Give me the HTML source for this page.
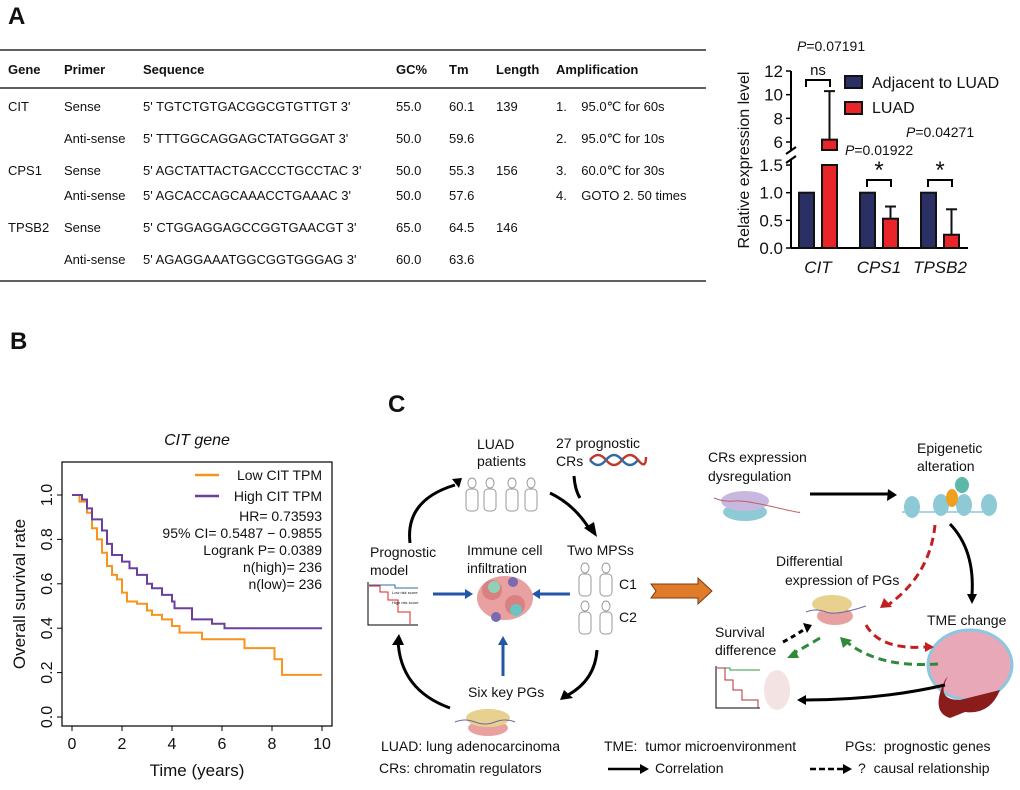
<!DOCTYPE html>
<html><head><meta charset="utf-8"><style>
body{margin:0;background:#fff}
svg text{font-family:"Liberation Sans",Arial,sans-serif;fill:#111}
</style></head><body>
<svg id="fig" width="1020" height="785" viewBox="0 0 1020 785">
<!-- Panel labels -->
<text x="8" y="24" font-size="24" font-weight="bold">A</text>
<text x="10" y="349" font-size="24" font-weight="bold">B</text>
<text x="388" y="412" font-size="24" font-weight="bold">C</text>

<!-- Table -->
<g font-size="13">
<line x1="0" y1="50" x2="706" y2="50" stroke="#000" stroke-width="1.2"/>
<line x1="0" y1="88" x2="706" y2="88" stroke="#000" stroke-width="1.2"/>
<line x1="0" y1="281" x2="706" y2="281" stroke="#000" stroke-width="1.2"/>
<g font-weight="bold">
<text x="8" y="74">Gene</text><text x="64" y="74">Primer</text><text x="143" y="74">Sequence</text>
<text x="396" y="74">GC%</text><text x="449" y="74">Tm</text><text x="496" y="74">Length</text><text x="556" y="74">Amplification</text>
</g>
<g>
<text x="8" y="111">CIT</text><text x="64" y="111">Sense</text><text x="143" y="111">5' TGTCTGTGACGGCGTGTTGT 3'</text><text x="396" y="111">55.0</text><text x="449" y="111">60.1</text><text x="496" y="111">139</text><text x="556" y="111">1.&#160;&#160;&#160; 95.0℃ for 60s</text>
<text x="64" y="143">Anti-sense</text><text x="143" y="143">5' TTTGGCAGGAGCTATGGGAT 3'</text><text x="396" y="143">50.0</text><text x="449" y="143">59.6</text><text x="556" y="143">2.&#160;&#160;&#160; 95.0℃ for 10s</text>
<text x="8" y="175">CPS1</text><text x="64" y="175">Sense</text><text x="143" y="175">5' AGCTATTACTGACCCTGCCTAC 3'</text><text x="396" y="175">50.0</text><text x="449" y="175">55.3</text><text x="496" y="175">156</text><text x="556" y="175">3.&#160;&#160;&#160; 60.0℃ for 30s</text>
<text x="64" y="200">Anti-sense</text><text x="143" y="200">5' AGCACCAGCAAACCTGAAAC 3'</text><text x="396" y="200">50.0</text><text x="449" y="200">57.6</text><text x="556" y="200">4.&#160;&#160;&#160; GOTO 2. 50 times</text>
<text x="8" y="232">TPSB2</text><text x="64" y="232">Sense</text><text x="143" y="232">5' CTGGAGGAGCCGGTGAACGT 3'</text><text x="396" y="232">65.0</text><text x="449" y="232">64.5</text><text x="496" y="232">146</text>
<text x="64" y="264">Anti-sense</text><text x="143" y="264">5' AGAGGAAATGGCGGTGGGAG 3'</text><text x="396" y="264">60.0</text><text x="449" y="264">63.6</text>
</g>
</g>

<g id="barchart"></g>
<g id="km"></g>

<!-- Panel C diagram -->
<g font-size="14">
<text x="477" y="449">LUAD</text><text x="477" y="466">patients</text>
<text x="556" y="448">27 prognostic</text><text x="556" y="466">CRs</text>
<path d="M590 460 q8 -10 16 0 t16 0 t16 0 t8 -3" stroke="#c0392b" stroke-width="2.5" fill="none"/>
<path d="M590 460 q8 10 16 0 t16 0 t16 0" stroke="#2e6da4" stroke-width="2.5" fill="none"/>
<g fill="none" stroke="#999" stroke-width="1">
<ellipse cx="472" cy="483" rx="4" ry="5"/><rect x="466" y="489" width="12" height="22" rx="4"/>
<ellipse cx="490" cy="483" rx="4" ry="5"/><rect x="484" y="489" width="12" height="22" rx="4"/>
<ellipse cx="512" cy="483" rx="4" ry="5"/><rect x="506" y="489" width="12" height="22" rx="4"/>
<ellipse cx="531" cy="483" rx="4" ry="5"/><rect x="525" y="489" width="12" height="22" rx="4"/>
<ellipse cx="585" cy="568" rx="4" ry="5"/><rect x="579" y="574" width="12" height="22" rx="4"/>
<ellipse cx="606" cy="568" rx="4" ry="5"/><rect x="600" y="574" width="12" height="22" rx="4"/>
<ellipse cx="585" cy="606" rx="4" ry="5"/><rect x="579" y="612" width="12" height="22" rx="4"/>
<ellipse cx="606" cy="606" rx="4" ry="5"/><rect x="600" y="612" width="12" height="22" rx="4"/>
</g>
<text x="370" y="557">Prognostic</text><text x="370" y="575">model</text>
<text x="467" y="555">Immune cell</text><text x="467" y="573">infiltration</text>
<text x="567" y="555">Two MPSs</text>
<text x="619" y="589">C1</text><text x="619" y="622">C2</text>
<text x="468" y="697">Six key PGs</text>
<g fill="none" stroke-width="1">
<path d="M368 582 V625 H418" stroke="#000"/>
<path d="M369 585 H395 V588 H418" stroke="#2e6da4"/>
<path d="M369 586 H380 V592 H388 V600 H398 V612 H410 V624" stroke="#e02020"/>
<text x="392" y="594" font-size="4" fill="#2e6da4" stroke="none">Low risk score</text>
<text x="392" y="604" font-size="4" fill="#e02020" stroke="none">High risk score</text>
</g>
<g>
<ellipse cx="505" cy="598" rx="28" ry="22" fill="#e8a0a0"/>
<circle cx="492" cy="590" r="10" fill="#d98080"/><circle cx="515" cy="605" r="10" fill="#d98080"/>
<circle cx="494" cy="587" r="6" fill="#8fd1b5"/><circle cx="516" cy="610" r="6" fill="#6cc3c3"/>
<circle cx="513" cy="582" r="5" fill="#7a6ab0"/><circle cx="496" cy="617" r="5" fill="#7a6ab0"/>
</g>
<g>
<ellipse cx="488" cy="728" rx="20" ry="8" fill="#e8a0a0"/><ellipse cx="488" cy="718" rx="22" ry="9" fill="#e8d08e"/>
<path d="M455 722 q10 -4 20 0 t20 0 t20 0" stroke="#6a6aa8" fill="none"/>
</g>
<g fill="none" stroke="#000" stroke-width="3">
<path d="M550 493 Q575 505 590 530"/><path d="M574 476 Q575 490 580 498"/>
<path d="M597 650 Q595 680 568 695"/>
<path d="M450 708 Q400 690 398 640"/>
<path d="M410 543 Q405 500 455 485"/>
<path d="M882 588 Q820 580 ..." stroke="none"/>
</g>
<g fill="#000">
<polygon points="584,528 597,537 594,522"/><polygon points="564,690 560,700 573,698"/>
<polygon points="392,645 399,634 404,645"/><polygon points="452,479 459,488 462,478"/>
</g>
<g stroke="#2355a8" stroke-width="3" fill="#2355a8">
<line x1="433" y1="594" x2="465" y2="594"/><polygon points="465,589 473,594 465,599" stroke="none"/>
<line x1="570" y1="594" x2="540" y2="594"/><polygon points="540,589 532,594 540,599" stroke="none"/>
<line x1="503" y1="676" x2="503" y2="645"/><polygon points="498,645 503,636 508,645" stroke="none"/>
</g>
<g>
<polygon points="651,584 698,584 698,578 712,591 698,604 698,598 651,598 656,591" fill="#e07b2a" stroke="#7a3a10"/>
</g>
<!-- right side -->
<text x="708" y="462">CRs expression</text><text x="708" y="481">dysregulation</text>
<text x="917" y="453">Epigenetic</text><text x="917" y="471">alteration</text>
<text x="776" y="566">Differential</text><text x="785" y="585">expression of PGs</text>
<text x="927" y="625">TME change</text>
<text x="715" y="637">Survival</text><text x="715" y="655">difference</text>
<g>
<ellipse cx="745" cy="512" rx="22" ry="9" fill="#8ec9d6"/><ellipse cx="745" cy="501" rx="24" ry="10" fill="#c8b8e0"/>
<path d="M714 498 q10 4 20 3 t40 6 t25 5" stroke="#c06060" fill="none"/>
</g>
<g fill="#8ec9d6">
<path d="M902 512 H995" stroke="#5aa9c0" fill="none"/>
<ellipse cx="912" cy="507" rx="8" ry="11"/><ellipse cx="941" cy="505" rx="8" ry="11"/><ellipse cx="964" cy="505" rx="8" ry="11"/><ellipse cx="989" cy="505" rx="8" ry="11"/>
<ellipse cx="962" cy="485" rx="7" ry="8" fill="#5cb8a8"/><ellipse cx="952" cy="498" rx="6" ry="9" fill="#f0a020"/>
</g>
<g>
<ellipse cx="835" cy="616" rx="18" ry="9" fill="#e8a0a0"/><ellipse cx="832" cy="604" rx="20" ry="9" fill="#e8d08e"/>
<path d="M806 612 q10 -4 20 0 t40 -6" stroke="#6a6aa8" fill="none"/>
</g>
<g>
<ellipse cx="970" cy="665" rx="42" ry="35" fill="#e9a8b8" stroke="#8bc7e0" stroke-width="3"/>
<path d="M948 676 Q935 700 960 700 L1000 690 Q990 715 965 712 L950 718 Q930 712 945 680Z" fill="#8a1c1c"/>
</g>
<g fill="none" stroke-width="1">
<path d="M716 666 V708 H760" stroke="#000"/>
<path d="M717 668 H730 V670 H760" stroke="#3a9a3a"/>
<path d="M717 668 H725 V680 H733 V690 H742 V700 H758 V708" stroke="#b03030"/>
<ellipse cx="777" cy="690" rx="13" ry="20" fill="#f3e3e3"/>
</g>
<g fill="none" stroke-width="3">
<path d="M810 494 H888" stroke="#000"/><polygon points="888,489 897,495 887,501" fill="#000" stroke="none"/>
<path d="M950 524 Q975 550 972 595" stroke="#000"/><polygon points="967,594 972,604 977,594" fill="#000" stroke="none"/>
<path d="M935 525 Q930 575 888 605" stroke="#c02020" stroke-dasharray="8,5"/><polygon points="884,598 880,608 892,607" fill="#c02020" stroke="none"/>
<path d="M866 625 Q880 650 925 647" stroke="#c02020" stroke-dasharray="8,5"/><polygon points="925,642 934,647 925,652" fill="#c02020" stroke="none"/>
<path d="M938 664 Q880 668 848 643" stroke="#2f8a3a" stroke-dasharray="8,5"/><polygon points="843,648 840,637 852,640" fill="#2f8a3a" stroke="none"/>
<path d="M820 638 Q800 650 792 654" stroke="#2f8a3a" stroke-dasharray="8,5"/><polygon points="795,649 787,658 799,658" fill="#2f8a3a" stroke="none"/>
<path d="M783 642 Q798 634 806 628" stroke="#000" stroke-dasharray="5,4"/><polygon points="803,623 812,625 807,633" fill="#000" stroke="none"/>
<path d="M945 685 Q880 700 805 700" stroke="#000"/><polygon points="806,695 797,700 806,705" fill="#000" stroke="none"/>
</g>
<!-- legend bottom -->
<g font-size="14">
<text x="381" y="751">LUAD: lung adenocarcinoma</text>
<text x="379" y="773">CRs: chromatin regulators</text>
<text x="604" y="751">TME:&#160; tumor microenvironment</text>
<line x1="608" y1="769" x2="640" y2="769" stroke="#000" stroke-width="2.5"/><polygon points="640,764 649,769 640,774" fill="#000"/>
<text x="655" y="773">Correlation</text>
<text x="845" y="751">PGs:&#160; prognostic genes</text>
<line x1="810" y1="769" x2="843" y2="769" stroke="#000" stroke-width="2.5" stroke-dasharray="6,3"/><polygon points="843,764 852,769 843,774" fill="#000"/>
<text x="858" y="773">?&#160; causal relationship</text>
</g>
</g>
</svg>
<script>
const NS="http://www.w3.org/2000/svg";
function mk(p,t,a){const e=document.createElementNS(NS,t);for(const k in a)e.setAttribute(k,a[k]);p.appendChild(e);return e;}

// ---- Bar chart data ----
const barGenes=["CIT","CPS1","TPSB2"];
const adjacentVals=[1.0,1.0,1.0];
const luadVals=[6.2,0.53,0.24];
const luadErr=[10.3,0.75,0.70];
const lowTicks=[0.0,0.5,1.0,1.5];
const highTicks=[6,8,10,12];
const pLabels=["P=0.07191","P=0.01922","P=0.04271"];
const sigMarks=["ns","*","*"];

const bc=document.getElementById('barchart');
const axX=791;
function yb(v){ // broken axis
  if(v<=1.5) return 248-v*55.3;
  if(v<5.5) return 158;
  return 142-(v-6)*11.83;
}
// axis
mk(bc,'line',{x1:axX,y1:248,x2:axX,y2:160,stroke:'#000','stroke-width':2});
mk(bc,'line',{x1:axX,y1:150,x2:axX,y2:71,stroke:'#000','stroke-width':2});
mk(bc,'line',{x1:786,y1:163,x2:796,y2:156,stroke:'#000','stroke-width':2});
mk(bc,'line',{x1:786,y1:154,x2:796,y2:147,stroke:'#000','stroke-width':2});
mk(bc,'line',{x1:axX,y1:248,x2:968,y2:248,stroke:'#000','stroke-width':2});
lowTicks.concat(highTicks).forEach(v=>{
  const y=yb(v);
  mk(bc,'line',{x1:axX-5,y1:y,x2:axX,y2:y,stroke:'#000','stroke-width':1.5});
  const t=mk(bc,'text',{x:axX-8,y:y+6,'text-anchor':'end','font-size':17});
  t.textContent=(v<=1.5)?v.toFixed(1):String(v);
});
const yl=mk(bc,'text',{x:0,y:0,'font-size':16,'text-anchor':'middle',transform:'translate(749,160) rotate(-90)'});
yl.textContent="Relative expression level";


const grpX=[799,860,921];
barGenes.forEach((g,i)=>{
  const x0=grpX[i];
  const b1=mk(bc,'rect',{x:x0,y:yb(adjacentVals[i]),width:15,height:248-yb(adjacentVals[i]),fill:'#2b3064',stroke:'#111','stroke-width':2});
  
  
  const xr=x0+23;
  const ytop=yb(luadVals[i]);
  if(luadVals[i]>1.5){
    mk(bc,'rect',{x:xr,y:ytop,width:15,height:150-ytop,fill:'#e8262a',stroke:'#111','stroke-width':2});
    mk(bc,'rect',{x:xr,y:165,width:15,height:83,fill:'#e8262a',stroke:'#111','stroke-width':2});
  } else {
    const b=mk(bc,'rect',{x:xr,y:ytop,width:15,height:248-ytop,fill:'#e8262a',stroke:'#111','stroke-width':2});
    
    
  }
  const ye=yb(luadErr[i]);
  mk(bc,'line',{x1:xr+7.5,y1:ytop,x2:xr+7.5,y2:ye,stroke:'#111','stroke-width':2});
  mk(bc,'line',{x1:xr+2,y1:ye,x2:xr+13,y2:ye,stroke:'#111','stroke-width':2});
  const lab=mk(bc,'text',{x:x0+19,y:273,'text-anchor':'middle','font-size':17,'font-style':'italic'});
  lab.textContent=g;
  
  
  // bracket
  const by=(i==0)?80:180;
  mk(bc,'path',{d:`M${x0+7} ${by+7} V${by} H${xr+8} V${by+7}`,fill:'none',stroke:'#000','stroke-width':2});
  const s=mk(bc,'text',{x:(x0+xr+15)/2,y:(i==0)?by-5:by-2,'text-anchor':'middle','font-size':(i==0)?15:24});
  s.textContent=sigMarks[i];
});
const pPos=[[797,51],[845,155],[906,137]];
pLabels.forEach((p,i)=>{
  const t=mk(bc,'text',{x:pPos[i][0],y:pPos[i][1],'font-size':14});
  t.innerHTML='<tspan font-style="italic">P</tspan>'+p.slice(1);
});
// legend
mk(bc,'rect',{x:845,y:76,width:17,height:12,fill:'#2b3064',stroke:'#111','stroke-width':2});
mk(bc,'rect',{x:845,y:102,width:17,height:12,fill:'#e8262a',stroke:'#111','stroke-width':2});
let lt=mk(bc,'text',{x:872,y:88,'font-size':16});lt.textContent="Adjacent to LUAD";


lt=mk(bc,'text',{x:872,y:113,'font-size':16});lt.textContent="LUAD";



// ---- KM data ----
const lowTimes=[0,0.3,0.6,0.8,1.0,1.2,1.4,1.6,1.8,2.0,2.2,2.6,3.0,3.2,3.6,4.0,4.3,5.2,6.9,8.1,8.4,10];
const lowSurv=[1.0,0.97,0.92,0.85,0.80,0.74,0.68,0.64,0.62,0.56,0.52,0.51,0.48,0.46,0.44,0.41,0.38,0.35,0.31,0.26,0.19,0.19];
const highTimes=[0,0.4,0.6,0.8,1.2,1.4,1.6,2.0,2.3,2.6,3.0,3.2,3.6,4.0,4.1,4.8,5.6,6.1,10];
const highSurv=[1.0,0.98,0.94,0.89,0.84,0.78,0.73,0.70,0.67,0.64,0.60,0.58,0.55,0.52,0.49,0.44,0.42,0.40,0.40];
const xTicks=[0,2,4,6,8,10];
const yTicks=[0.0,0.2,0.4,0.6,0.8,1.0];
const legendLines=["HR= 0.73593","95% CI= 0.5487 − 0.9855","Logrank  P= 0.0389","n(high)= 236","n(low)= 236"];

const km=document.getElementById('km');
const kx=t=>72+t*25, ky=s=>717-s*222;
mk(km,'rect',{x:62,y:462,width:270,height:264,fill:'none',stroke:'#000','stroke-width':1.2});
xTicks.forEach(t=>{
  mk(km,'line',{x1:kx(t),y1:726,x2:kx(t),y2:731,stroke:'#000'});
  const e=mk(km,'text',{x:kx(t),y:749,'text-anchor':'middle','font-size':16});e.textContent=t;
});
yTicks.forEach(s=>{
  mk(km,'line',{x1:57,y1:ky(s),x2:62,y2:ky(s),stroke:'#000'});
  const e=mk(km,'text',{x:0,y:0,'text-anchor':'middle','font-size':16,transform:`translate(52,${ky(s)}) rotate(-90)`});e.textContent=s.toFixed(1);
});
let e=mk(km,'text',{x:197,y:776,'text-anchor':'middle','font-size':17});e.textContent="Time (years)";
e=mk(km,'text',{x:0,y:0,'text-anchor':'middle','font-size':17,transform:'translate(25,594) rotate(-90)'});e.textContent="Overall survival rate";
e=mk(km,'text',{x:197,y:445,'text-anchor':'middle','font-size':16,'font-style':'italic'});e.textContent="CIT gene";
function stepPath(T,S){let d=`M${kx(T[0])} ${ky(S[0])}`;for(let i=1;i<T.length;i++){d+=` H${kx(T[i])} V${ky(S[i])}`;}return d;}
const pl=mk(km,'path',{d:stepPath(lowTimes,lowSurv),fill:'none',stroke:'#f7931e','stroke-width':2});


const ph=mk(km,'path',{d:stepPath(highTimes,highSurv),fill:'none',stroke:'#6a3fa0','stroke-width':2});


mk(km,'line',{x1:195,y1:475,x2:219,y2:475,stroke:'#f7931e','stroke-width':2.5});
mk(km,'line',{x1:195,y1:496,x2:219,y2:496,stroke:'#6a3fa0','stroke-width':2.5});
e=mk(km,'text',{x:322,y:480,'text-anchor':'end','font-size':14});e.textContent="Low  CIT TPM";
e=mk(km,'text',{x:322,y:501,'text-anchor':'end','font-size':14});e.textContent="High  CIT TPM";
legendLines.forEach((l,i)=>{const t=mk(km,'text',{x:322,y:521+i*17,'text-anchor':'end','font-size':14});t.textContent=l;});
</script>
</body></html>
